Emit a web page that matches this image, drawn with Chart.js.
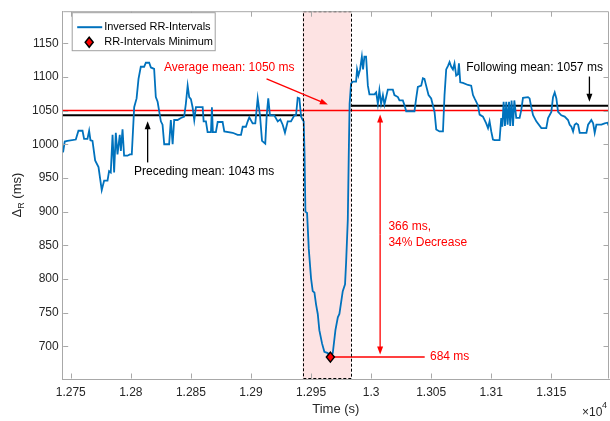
<!DOCTYPE html>
<html>
<head>
<meta charset="utf-8">
<script src="https://cdn.jsdelivr.net/npm/chart.js@4.4.1/dist/chart.umd.min.js"></script>
<style>
  html, body { margin: 0; padding: 0; background: #fff; }
  #wrap { width: 610px; height: 421px; }
</style>
</head>
<body>
<div id="wrap"><canvas id="myChart" width="610" height="421"></canvas></div>
<script>
// inversed RR intervals, time in s, value in ms
const times = [
  12743.6, 12745, 12747.2, 12754.2, 12756.4, 12759.8, 12761.1, 12763.9, 12765.3, 12766.4,
  12768.1, 12770.3, 12773.1, 12775.8, 12777.8, 12780.6, 12781.9, 12783.3, 12784.8, 12786.1,
  12787.5, 12788.9, 12790.8, 12791.7, 12793.1, 12794.4, 12797.2, 12799.2, 12800.8, 12802.8,
  12804.8, 12806.4, 12808.3, 12811.1, 12812.5, 12815.3, 12816.7, 12819.4, 12820.8, 12822.3,
  12825, 12826.4, 12827.8, 12831.9, 12833.3, 12834.8, 12836.1, 12838.9, 12841.7, 12844.4,
  12845.8, 12847.3, 12848.6, 12850, 12851.4, 12852.8, 12854.2, 12859.8, 12860.6, 12862.5,
  12863.9, 12866.7, 12867.5, 12868.3, 12870.8, 12872.3, 12876.4, 12877.8, 12884.8, 12888.9,
  12891.7, 12893.1, 12895.8, 12897.3, 12898.6, 12901.4, 12903.6, 12905.6, 12907.5, 12909.2,
  12911.9, 12913.1, 12914.4, 12915.8, 12919.4, 12922.3, 12924.4, 12926.4, 12928.3, 12930.6,
  12933.3, 12936.1, 12937.5, 12938.9, 12940.3, 12941.7, 12943.1, 12943.9, 12944.6, 12945.3,
  12946.7, 12948.1, 12950, 12951.4, 12952.8, 12954.2, 12955.6, 12956.9, 12959.2, 12961.1,
  12963.9, 12966.1, 12968.1, 12970.3, 12972.3, 12973.6, 12975, 12976.4, 12978.3, 12979.2,
  12980.6, 12981.4, 12982.1, 12983.3, 12984.8, 12987.5, 12988.3, 12989.4, 12990.8, 12992.3,
  12993.3, 12994.4, 12995.8, 12997.3, 12998.6, 13002.8, 13004.2, 13005.6, 13006.9, 13008.3,
  13009.8, 13011.1, 13012.5, 13013.9, 13018.1, 13019.4, 13022.3, 13023.6, 13026.4, 13027.8,
  13029.2, 13036.1, 13037.5, 13038.9, 13041.7, 13043.1, 13044.4, 13045.8, 13047.8, 13050,
  13052.8, 13054.2, 13056.9, 13059.8, 13061.1, 13062.5, 13063.9, 13065.3, 13066.7, 13068.1,
  13069.4, 13070.8, 13072.3, 13073.1, 13074.2, 13076.4, 13080.6, 13083.3, 13084.8, 13086.1,
  13088.9, 13090.3, 13093.1, 13095.8, 13097.3, 13098.6, 13100, 13101.4, 13102.8, 13106.9,
  13108.3, 13109.2, 13110.3, 13111.4, 13112.5, 13113.6, 13114.8, 13115.8, 13116.9, 13118.1,
  13119.2, 13120.8, 13123.6, 13125, 13126.4, 13130.6, 13131.9, 13133.3, 13134.8, 13137.5,
  13141.7, 13145.8, 13147.3, 13150, 13151.4, 13152.8, 13154.2, 13155.6, 13158.3, 13161.1,
  13163.9, 13165.3, 13166.7, 13168.1, 13169.4, 13170.8, 13172.3, 13173.6, 13179.2, 13180.6,
  13183.3, 13184.8, 13186.1, 13187.5, 13191.7, 13194.4, 13196.7, 13198.6
];
const rrValues = [
  988, 1004, 1005, 1007, 1020, 1020, 1008, 1008, 1020, 1006,
  1005, 976, 966, 932, 946, 946, 960, 958, 1014, 958,
  1017, 985, 1014, 990, 1022, 983, 983, 985, 985, 1055,
  1068, 1097, 1115, 1115, 1121, 1121, 1114, 1112, 1070, 1063,
  1034, 1029, 1000, 1000, 1036, 1000, 1036, 1036, 1039, 1041,
  1060, 1087, 1070, 1067, 1055, 1036, 1055, 1055, 1034, 1034,
  1018, 1018, 1055, 1018, 1018, 1033, 1033, 1019, 1017, 1014,
  1014, 1026, 1026, 1034, 1040, 1031, 1031, 1068, 1043, 1005,
  1001, 1043, 1068, 1043, 1043, 1034, 1037, 1029, 1017, 1034,
  1034, 1043, 1043, 1069, 1068, 1041, 1036, 1034, 985, 900,
  898, 845, 801, 782, 780, 762, 748, 724, 704, 692,
  690, 684, 690, 724, 743, 748, 765, 782, 792, 825,
  888, 985, 1060, 1090, 1093, 1093, 1111, 1102, 1111, 1130,
  1111, 1130, 1130, 1087, 1074, 1074, 1077, 1060, 1080, 1060,
  1073, 1059, 1070, 1081, 1081, 1073, 1070, 1065, 1065, 1058,
  1049, 1049, 1068, 1085, 1087, 1098, 1097, 1087, 1073, 1068,
  1048, 1022, 1019, 1019, 1073, 1111, 1116, 1122, 1115, 1111,
  1120, 1102, 1104, 1120, 1092, 1091, 1088, 1087, 1073, 1068,
  1058, 1044, 1041, 1031, 1024, 1034, 1019, 1007, 1006, 1006,
  1039, 1026, 1063, 1027, 1063, 1029, 1063, 1027, 1065, 1027,
  1065, 1039, 1039, 1051, 1069, 1070, 1068, 1055, 1043, 1034,
  1024, 1024, 1039, 1048, 1070, 1077, 1068, 1048, 1043, 1041,
  1036, 1029, 1026, 1019, 1029, 1031, 1029, 1017, 1017, 1029,
  1036, 1031, 1017, 1029, 1029, 1031, 1032, 1024
];

const xRange = [12743.3, 13198];
const yRange = [651.5, 1197.5];
const xTicks = [12750, 12800, 12850, 12900, 12950, 13000, 13050, 13100, 13150];
const yTicks = [700, 750, 800, 850, 900, 950, 1000, 1050, 1100, 1150];

const minimumPoint = [12966.1, 684];
const eventWindow = [12943, 12983];
const averageMean = 1050;
const precedingMean = 1043;
const followingMean = 1057;
const dropArrow = [13007.5, 688, 1044];   // x, bottom tip, top tip

const FONT = '"Liberation Sans", Arial, sans-serif';
const BLUE = '#0072BD';
const RED = '#ff0000';
const AXIS = '#a8a8a8';
const TXT = '#262626';

function arrow(ctx, x1, y1, x2, y2, color) {
  const a = Math.atan2(y2 - y1, x2 - x1);
  const len = 8, half = 3;
  ctx.save();
  ctx.strokeStyle = color;
  ctx.fillStyle = color;
  ctx.lineWidth = 1.3;
  ctx.beginPath();
  ctx.moveTo(x1, y1);
  ctx.lineTo(x2 - len * 0.7 * Math.cos(a), y2 - len * 0.7 * Math.sin(a));
  ctx.stroke();
  ctx.beginPath();
  ctx.moveTo(x2, y2);
  ctx.lineTo(x2 - len * Math.cos(a) + half * Math.sin(a), y2 - len * Math.sin(a) - half * Math.cos(a));
  ctx.lineTo(x2 - len * Math.cos(a) - half * Math.sin(a), y2 - len * Math.sin(a) + half * Math.cos(a));
  ctx.closePath();
  ctx.fill();
  ctx.restore();
}

function diamond(ctx, x, y) {
  ctx.save();
  ctx.beginPath();
  ctx.moveTo(x, y - 5);
  ctx.lineTo(x + 4, y);
  ctx.lineTo(x, y + 5);
  ctx.lineTo(x - 4, y);
  ctx.closePath();
  ctx.fillStyle = RED;
  ctx.fill();
  ctx.lineWidth = 1.5;
  ctx.strokeStyle = '#000';
  ctx.stroke();
  ctx.restore();
}

const decor = {
  id: 'decor',
  beforeDatasetsDraw(chart) {
    const {ctx, chartArea: a, scales: {x}} = chart;
    const x1 = x.getPixelForValue(eventWindow[0]);
    const x2 = x.getPixelForValue(eventWindow[1]);
    ctx.save();
    ctx.fillStyle = '#fde3e3';
    ctx.fillRect(x1, a.top, x2 - x1, a.bottom - a.top);
    ctx.restore();
  },
  afterDatasetsDraw(chart) {
    const {ctx, chartArea: a, scales: {x, y}} = chart;
    const px = v => x.getPixelForValue(v);
    const py = v => y.getPixelForValue(v);

    // dashed outline of the event window
    ctx.save();
    ctx.setLineDash([3, 2]);
    ctx.strokeStyle = '#000';
    ctx.lineWidth = 1;
    ctx.strokeRect(Math.round(px(eventWindow[0])) + 0.5, a.top + 0.5,
      Math.round(px(eventWindow[1]) - px(eventWindow[0])), a.bottom - a.top - 1);
    ctx.restore();

    // arrows
    arrow(ctx, px(12913), py(1097), px(12964), py(1059), RED);
    arrow(ctx, px(12814), py(973), px(12814), py(1034), '#000');
    arrow(ctx, px(13181.7), py(1100.5), px(13181.7), py(1063), '#000');
    const mid = (py(dropArrow[1]) + py(dropArrow[2])) / 2;
    arrow(ctx, px(dropArrow[0]), mid, px(dropArrow[0]), py(dropArrow[1]), RED);
    arrow(ctx, px(dropArrow[0]), mid, px(dropArrow[0]), py(dropArrow[2]), RED);

    // annotation text
    ctx.save();
    ctx.font = '12px ' + FONT;
    ctx.textBaseline = 'middle';
    ctx.textAlign = 'center';
    ctx.fillStyle = RED;
    ctx.fillText('Average mean: 1050 ms', px(12882), py(1113));
    ctx.fillStyle = '#000';
    ctx.fillText('Preceding mean: 1043 ms', px(12861), py(959));
    ctx.fillText('Following mean: 1057 ms', px(13136), py(1113));
    ctx.textAlign = 'left';
    ctx.fillStyle = RED;
    ctx.fillText('366 ms,', px(13014.4), py(877));
    ctx.fillText('34% Decrease', px(13014.4), py(854));
    ctx.fillText('684 ms', px(13049), py(684));
    ctx.restore();

    diamond(ctx, px(minimumPoint[0]), py(minimumPoint[1]));

    // box, inward ticks
    ctx.save();
    ctx.strokeStyle = AXIS;
    ctx.lineWidth = 1;
    const L = a.left + 0.5, R = a.right - 0.5, T = a.top + 0.5, B = a.bottom - 0.5;
    ctx.beginPath();
    ctx.moveTo(L, T); ctx.lineTo(R, T); ctx.lineTo(R, B);
    xTicks.forEach(v => {
      const p = Math.round(px(v)) + 0.5;
      ctx.moveTo(p, B); ctx.lineTo(p, B - 5);
      ctx.moveTo(p, T); ctx.lineTo(p, T + 5);
    });
    yTicks.forEach(v => {
      const p = Math.round(py(v)) + 0.5;
      ctx.moveTo(L, p); ctx.lineTo(L + 5, p);
      ctx.moveTo(R, p); ctx.lineTo(R - 5, p);
    });
    ctx.stroke();
    ctx.restore();

    // legend
    ctx.save();
    const lx = a.left + 9.5, ly = a.top + 1.5;
    ctx.fillStyle = '#fff';
    ctx.fillRect(lx, ly, 143, 38);
    ctx.strokeStyle = '#a0a0a0';
    ctx.lineWidth = 1;
    ctx.strokeRect(lx, ly, 143, 38);
    ctx.strokeStyle = BLUE;
    ctx.lineWidth = 2;
    ctx.beginPath();
    ctx.moveTo(lx + 5, ly + 14.5);
    ctx.lineTo(lx + 30, ly + 14.5);
    ctx.stroke();
    diamond(ctx, lx + 17, ly + 29.5);
    ctx.font = '11px ' + FONT;
    ctx.fillStyle = '#000';
    ctx.textBaseline = 'middle';
    ctx.fillText(chart.data.datasets[0].label, lx + 32, ly + 14.5);
    ctx.fillText(chart.data.datasets[1].label, lx + 32, ly + 29.5);
    ctx.restore();
  },
  afterDraw(chart) {
    const {ctx, chartArea: a} = chart;
    ctx.save();
    ctx.fillStyle = TXT;
    // y title with subscript
    ctx.translate(21, (a.top + a.bottom) / 2);
    ctx.rotate(-Math.PI / 2);
    ctx.textBaseline = 'alphabetic';
    ctx.font = '13px ' + FONT;
    const w1 = ctx.measureText('\u0394').width;
    ctx.font = '9px ' + FONT;
    const w2 = ctx.measureText('R').width;
    ctx.font = '13px ' + FONT;
    const w3 = ctx.measureText(' (ms)').width;
    let sx = -(w1 + w2 + w3) / 2;
    ctx.fillText('\u0394', sx, 0);
    ctx.font = '9px ' + FONT;
    ctx.fillText('R', sx + w1, 3);
    ctx.font = '13px ' + FONT;
    ctx.fillText(' (ms)', sx + w1 + w2, 0);
    ctx.restore();

    // exponent label
    ctx.save();
    ctx.fillStyle = TXT;
    ctx.textBaseline = 'alphabetic';
    ctx.textAlign = 'left';
    ctx.font = '12px ' + FONT;
    ctx.fillText('\u00d710', 582, 416);
    ctx.font = '9px ' + FONT;
    ctx.fillText('4', 602, 408);
    ctx.restore();
  }
};

const ctx = document.getElementById('myChart');

new Chart(ctx, {
  type: 'line',
  data: {
    datasets: [{
      label: 'Inversed RR-Intervals',
      data: times.map((t, i) => ({x: t, y: rrValues[i]})),
      borderColor: BLUE,
      borderWidth: 1.8,
      pointRadius: 0,
      tension: 0,
      order: 1
    }, {
      label: 'RR-Intervals Minimum',
      data: [],
      pointRadius: 0,
      showLine: false
    }, {
      label: 'Average mean',
      data: [{x: xRange[0], y: averageMean}, {x: xRange[1], y: averageMean}],
      borderColor: RED,
      borderWidth: 1.5,
      pointRadius: 0,
      order: 2
    }, {
      label: 'Preceding mean',
      data: [{x: xRange[0], y: precedingMean}, {x: eventWindow[0], y: precedingMean}],
      borderColor: '#000',
      borderWidth: 2,
      pointRadius: 0,
      order: 3
    }, {
      label: 'Following mean',
      data: [{x: eventWindow[1], y: followingMean}, {x: xRange[1], y: followingMean}],
      borderColor: '#000',
      borderWidth: 2,
      pointRadius: 0,
      order: 3
    }, {
      label: 'Minimum level',
      data: [{x: minimumPoint[0], y: minimumPoint[1]}, {x: 13044.6, y: minimumPoint[1]}],
      borderColor: RED,
      borderWidth: 1.5,
      pointRadius: 0,
      order: 2
    }]
  },
  options: {
    responsive: false,
    animation: false,
    devicePixelRatio: 1,
    layout: { padding: { top: 4, right: 1, left: 0, bottom: 0 } },
    plugins: {
      legend: { display: false },
      tooltip: { enabled: false }
    },
    scales: {
      x: {
        type: 'linear',
        min: xRange[0],
        max: xRange[1],
        afterBuildTicks: s => { s.ticks = xTicks.map(v => ({value: v})); },
        afterFit: s => { s.height = 42; },
        grid: { drawOnChartArea: false, drawTicks: false },
        border: { color: AXIS },
        ticks: {
          padding: 6,
          color: TXT,
          font: { size: 12, family: FONT },
          maxRotation: 0,
          callback: v => String(+(v / 10000).toFixed(4))
        },
        title: {
          display: true,
          text: 'Time (s)',
          color: TXT,
          font: { size: 13, family: FONT },
          padding: { top: 0, bottom: 4 }
        }
      },
      y: {
        type: 'linear',
        min: yRange[0],
        max: yRange[1],
        afterBuildTicks: s => { s.ticks = yTicks.map(v => ({value: v})); },
        afterFit: s => { s.width = 62.7; },
        grid: { drawOnChartArea: false, drawTicks: false },
        border: { color: AXIS },
        ticks: {
          padding: 4,
          color: TXT,
          font: { size: 12, family: FONT },
          callback: v => String(v)
        }
      }
    }
  },
  plugins: [decor]
});
</script>
</body>
</html>
